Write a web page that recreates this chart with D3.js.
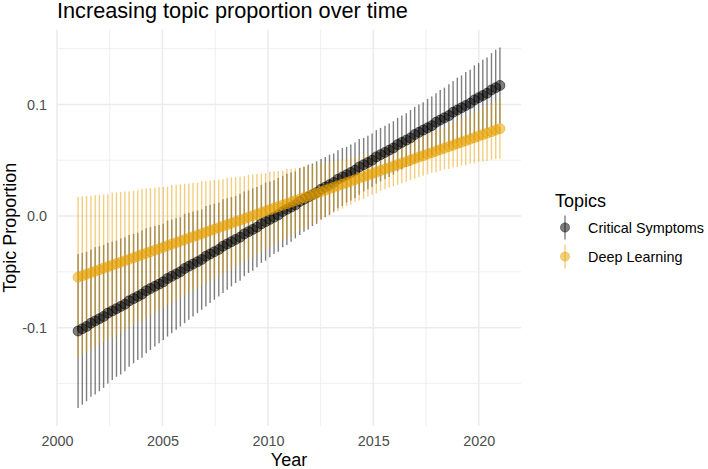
<!DOCTYPE html>
<html><head><meta charset="utf-8">
<script src="https://cdn.jsdelivr.net/npm/d3@7"></script>
<style>body{margin:0;background:#fff}svg{display:block}text{font-family:"Liberation Sans",Arial,Helvetica,sans-serif}</style>
</head><body><svg id="c" width="708" height="469"></svg>
<script>
const years=[2001.00,2001.20,2001.40,2001.61,2001.81,2002.01,2002.21,2002.41,2002.62,2002.82,
2003.02,2003.22,2003.42,2003.63,2003.83,2004.03,2004.23,2004.43,2004.64,2004.84,
2005.04,2005.24,2005.44,2005.65,2005.85,2006.05,2006.25,2006.45,2006.66,2006.86,
2007.06,2007.26,2007.46,2007.67,2007.87,2008.07,2008.27,2008.47,2008.68,2008.88,
2009.08,2009.28,2009.48,2009.69,2009.89,2010.09,2010.29,2010.49,2010.70,2010.90,
2011.10,2011.30,2011.51,2011.71,2011.91,2012.11,2012.31,2012.52,2012.72,2012.92,
2013.12,2013.32,2013.53,2013.73,2013.93,2014.13,2014.33,2014.54,2014.74,2014.94,
2015.14,2015.34,2015.55,2015.75,2015.95,2016.15,2016.35,2016.56,2016.76,2016.96,
2017.16,2017.36,2017.57,2017.77,2017.97,2018.17,2018.37,2018.58,2018.78,2018.98,
2019.18,2019.38,2019.59,2019.79,2019.99,2020.19,2020.39,2020.60,2020.80,2021.00];

const meanCritical=[-0.103,-0.101,-0.099,-0.096,-0.094,-0.092,-0.090,-0.087,-0.085,
-0.083,-0.081,-0.079,-0.076,-0.074,-0.072,-0.070,-0.067,-0.065,
-0.063,-0.061,-0.059,-0.056,-0.054,-0.052,-0.050,-0.047,-0.045,
-0.043,-0.041,-0.039,-0.036,-0.034,-0.032,-0.030,-0.027,-0.025,
-0.023,-0.021,-0.019,-0.016,-0.014,-0.012,-0.010,-0.007,-0.005,
-0.003,-0.001,0.001,0.004,0.006,0.008,0.010,0.013,0.015,
0.017,0.019,0.021,0.024,0.026,0.028,0.030,0.033,0.035,
0.037,0.039,0.041,0.044,0.046,0.048,0.050,0.053,0.055,
0.057,0.059,0.061,0.064,0.066,0.068,0.070,0.073,0.075,
0.077,0.079,0.081,0.084,0.086,0.088,0.090,0.093,0.095,
0.097,0.099,0.101,0.104,0.106,0.108,0.110,0.113,0.115,0.117];

const ciCritical=[0.069,0.068,0.067,0.066,0.066,0.065,0.064,0.063,0.062,0.061,
0.061,0.060,0.059,0.058,0.057,0.057,0.056,0.055,0.054,0.053,
0.052,0.052,0.051,0.050,0.049,0.049,0.048,0.047,0.046,0.045,
0.045,0.044,0.043,0.042,0.042,0.041,0.040,0.039,0.039,0.038,
0.037,0.037,0.036,0.035,0.035,0.034,0.033,0.033,0.032,0.032,
0.031,0.030,0.030,0.029,0.029,0.028,0.028,0.027,0.027,0.027,
0.026,0.026,0.026,0.025,0.025,0.025,0.025,0.024,0.024,0.024,
0.024,0.024,0.024,0.024,0.024,0.024,0.024,0.024,0.025,0.025,
0.025,0.025,0.026,0.026,0.026,0.027,0.027,0.028,0.028,0.029,
0.029,0.030,0.030,0.031,0.031,0.032,0.032,0.033,0.034,0.034];

const meanDeep=[-0.0548,-0.0535,-0.0521,-0.0508,-0.0494,-0.0481,-0.0467,-0.0454,-0.0440,
-0.0427,-0.0414,-0.0400,-0.0387,-0.0373,-0.0360,-0.0346,-0.0333,-0.0319,
-0.0306,-0.0293,-0.0279,-0.0266,-0.0252,-0.0239,-0.0225,-0.0212,-0.0198,
-0.0185,-0.0172,-0.0158,-0.0145,-0.0131,-0.0118,-0.0104,-0.0091,-0.0077,
-0.0064,-0.0051,-0.0037,-0.0024,-0.0010,0.0003,0.0017,0.0030,0.0044,
0.0057,0.0070,0.0084,0.0097,0.0111,0.0124,0.0138,0.0151,0.0165,
0.0178,0.0191,0.0205,0.0218,0.0232,0.0245,0.0259,0.0272,0.0286,
0.0299,0.0312,0.0326,0.0339,0.0353,0.0366,0.0380,0.0393,0.0407,
0.0420,0.0433,0.0447,0.0460,0.0474,0.0487,0.0501,0.0514,0.0528,
0.0541,0.0554,0.0568,0.0581,0.0595,0.0608,0.0622,0.0635,0.0649,
0.0662,0.0675,0.0689,0.0702,0.0716,0.0729,0.0743,0.0756,0.0770,0.0783];

const ciDeep=[0.072,0.071,0.070,0.069,0.068,0.067,0.066,0.065,0.065,0.064,
0.063,0.062,0.061,0.060,0.059,0.059,0.058,0.057,0.056,0.055,
0.054,0.053,0.053,0.052,0.051,0.050,0.049,0.048,0.047,0.047,
0.046,0.045,0.044,0.043,0.042,0.042,0.041,0.040,0.039,0.038,
0.038,0.037,0.036,0.035,0.034,0.034,0.033,0.032,0.031,0.031,
0.030,0.029,0.028,0.028,0.027,0.026,0.026,0.025,0.024,0.024,
0.023,0.023,0.022,0.021,0.021,0.020,0.020,0.020,0.019,0.019,
0.019,0.018,0.018,0.018,0.018,0.018,0.018,0.018,0.018,0.018,
0.018,0.018,0.018,0.018,0.019,0.019,0.019,0.020,0.020,0.021,
0.021,0.022,0.022,0.023,0.023,0.024,0.025,0.025,0.026,0.027];

const topics=["Critical Symptoms","Deep Learning"];
const topicColors=["#000000","#E69F00"];
const xTicks=[2000,2005,2010,2015,2020];
const xMinor=[2002.5,2007.5,2012.5,2017.5];
const yTicks=[-0.1,0.0,0.1];
const yTickLabels=["-0.1","0.0","0.1"];
const yMinor=[-0.15,-0.05,0.05,0.15];
const chartTitle="Increasing topic proportion over time";
const xTitle="Year", yTitle="Topic Proportion", legendTitle="Topics";

const svg=d3.select("#c");
const panel={l:57,r:521,t:29.5,b:426};

const series=[
  {name:topics[0],color:topicColors[0],mean:meanCritical,ci:ciCritical},
  {name:topics[1],color:topicColors[1],mean:meanDeep,ci:ciDeep}
];
const rows=[];
series.forEach(s=>years.forEach((yr,i)=>rows.push({s:s,x:yr,m:s.mean[i],lo:s.mean[i]-s.ci[i],hi:s.mean[i]+s.ci[i]})));

const xe=d3.extent(years), xp=(xe[1]-xe[0])*0.05;
const x=d3.scaleLinear().domain([xe[0]-xp,xe[1]+xp]).range([panel.l,panel.r]);
const yMin=d3.min(rows,d=>d.lo), yMax=d3.max(rows,d=>d.hi), yp=(yMax-yMin)*0.05;
const y=d3.scaleLinear().domain([yMin-yp,yMax+yp]).range([panel.b,panel.t]);

// grid
const g=svg.append("g");
g.selectAll(".hmin").data(yMinor).join("line").attr("x1",panel.l).attr("x2",panel.r)
 .attr("y1",d=>y(d)).attr("y2",d=>y(d)).attr("stroke","#EBEBEB").attr("stroke-width",0.8);
g.selectAll(".vmin").data(xMinor).join("line").attr("y1",panel.t).attr("y2",panel.b)
 .attr("x1",d=>x(d)).attr("x2",d=>x(d)).attr("stroke","#EBEBEB").attr("stroke-width",0.8);
g.selectAll(".hmaj").data(yTicks).join("line").attr("x1",panel.l).attr("x2",panel.r)
 .attr("y1",d=>y(d)).attr("y2",d=>y(d)).attr("stroke","#EBEBEB").attr("stroke-width",1.5);
g.selectAll(".vmaj").data(xTicks).join("line").attr("y1",panel.t).attr("y2",panel.b)
 .attr("x1",d=>x(d)).attr("x2",d=>x(d)).attr("stroke","#EBEBEB").attr("stroke-width",1.5);

// axes
const xAxis=svg.append("g").attr("transform",`translate(0,${panel.b})`)
 .call(d3.axisBottom(x).tickValues(xTicks).tickSize(0).tickPadding(10).tickFormat(d3.format("d")));
xAxis.select(".domain").remove();
xAxis.selectAll("text").attr("fill","#4D4D4D").attr("font-size","14.4px");
const yAxis=svg.append("g").attr("transform",`translate(${panel.l},0)`)
 .call(d3.axisLeft(y).tickValues(yTicks).tickSize(0).tickPadding(10).tickFormat((d,i)=>yTickLabels[i]));
yAxis.select(".domain").remove();
yAxis.selectAll("text").attr("fill","#4D4D4D").attr("font-size","14.4px");

// error bars
svg.append("g").selectAll("line").data(rows).join("line")
 .attr("x1",d=>x(d.x)).attr("x2",d=>x(d.x)).attr("y1",d=>y(d.lo)).attr("y2",d=>y(d.hi))
 .attr("stroke",d=>d.s.color).attr("stroke-opacity",0.5).attr("stroke-width",1.4);
// points
series.forEach(s=>{
  svg.append("g").selectAll("circle").data(rows.filter(r=>r.s===s)).join("circle")
   .attr("cx",d=>x(d.x)).attr("cy",d=>y(d.m)).attr("r",5)
   .attr("fill",s.color).attr("fill-opacity",0.5)
   .attr("stroke",s.color).attr("stroke-opacity",0.5).attr("stroke-width",1);
});

// titles
svg.append("text").attr("x",panel.l).attr("y",18).attr("font-size","21.7px").attr("fill","#000").text(chartTitle);
svg.append("text").attr("x",(panel.l+panel.r)/2).attr("y",466).attr("text-anchor","middle").attr("font-size","18px").attr("fill","#000").text(xTitle);
svg.append("text").attr("transform",`translate(16,${(panel.t+panel.b)/2}) rotate(-90)`).attr("text-anchor","middle").attr("font-size","18px").attr("fill","#000").text(yTitle);

// legend
const lg=svg.append("g");
lg.append("text").attr("x",555).attr("y",207).attr("font-size","18px").attr("fill","#000").text(legendTitle);
const keys=lg.selectAll("g.k").data(series).join("g").attr("transform",(d,i)=>`translate(565,${227.5+i*29})`);
keys.append("line").attr("y1",-12).attr("y2",12).attr("stroke",d=>d.color).attr("stroke-opacity",0.5).attr("stroke-width",1.4);
keys.append("circle").attr("r",4.6).attr("fill",d=>d.color).attr("fill-opacity",0.5).attr("stroke",d=>d.color).attr("stroke-opacity",0.5).attr("stroke-width",0.8);
keys.append("text").attr("x",23).attr("dy","0.35em").attr("font-size","14.4px").attr("fill","#000").text(d=>d.name);
</script></body></html>
